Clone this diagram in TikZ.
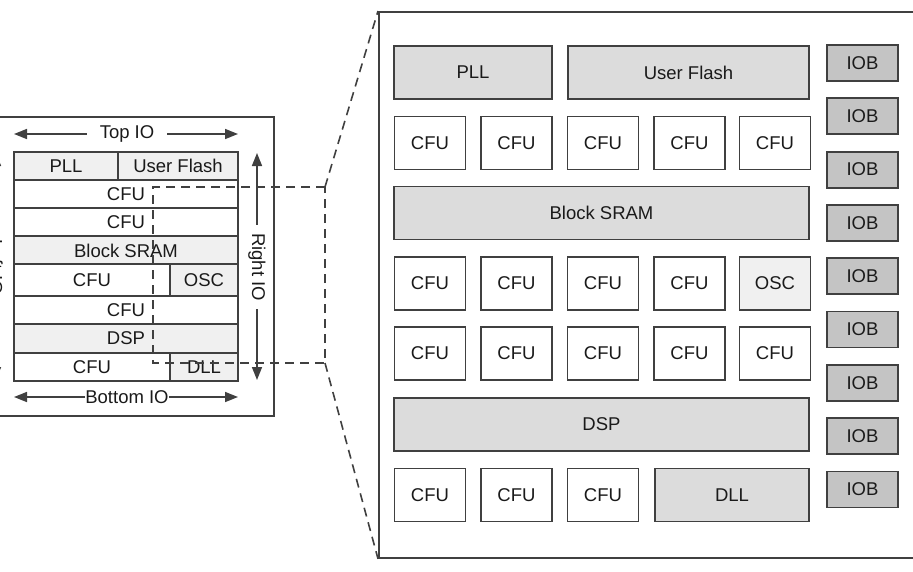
\documentclass[tikz,border=0pt]{standalone}
\usepackage{fontspec}
\setmainfont{Liberation Sans}
\usetikzlibrary{arrows.meta}
\definecolor{edge}{HTML}{404040}
\definecolor{ink}{HTML}{1A1A1A}
\definecolor{hardgray}{HTML}{DCDCDC}
\definecolor{lightgray}{HTML}{F0F0F0}
\definecolor{iobgray}{HTML}{C4C4C4}

\begin{document}
\begin{tikzpicture}[x=1pt, y=-1pt,
  txt/.style={text=ink, font=\fontsize{18.5}{20}\selectfont},
  blk/.style={txt, draw=edge, line width=1.8pt, minimum width=71pt, minimum height=53pt, inner sep=0pt},
  cfu/.style={blk, fill=white},
  hard/.style={blk, fill=hardgray},
  iob/.style={blk, fill=iobgray, minimum height=36pt},
  cell/.style={txt, draw=edge, line width=1.8pt, inner sep=0pt, minimum height=28.4pt},
  io/.style={draw=edge, line width=1.6pt, -{Triangle[length=13pt,width=10pt]}},
  zoom/.style={draw=edge, line width=1.6pt, dash pattern=on 9pt off 6pt}]
\useasboundingbox (0,0) rectangle (913,571);

\node[draw=edge, line width=1.8pt, anchor=north east, minimum width=320pt, minimum height=299pt] (dev) at (275,116) {};

\node[cell, fill=lightgray, minimum width=104pt] (pll) at (66,166) {PLL};
\node[cell, fill=lightgray, minimum width=120pt] (uf) at (178,166) {User Flash};
\node[cell, fill=white, minimum width=224pt] (c1) at (126,194) {CFU};
\node[cell, fill=white, minimum width=224pt] (c2) at (126,222.5) {CFU};
\node[cell, fill=lightgray, minimum width=224pt] (sram) at (126,250.5) {Block SRAM};
\node[cell, fill=white, minimum width=156pt, minimum height=31.7pt] (c3) at (92,280) {CFU};
\node[cell, fill=lightgray, minimum width=68pt, minimum height=31.7pt] (osc) at (204,280) {OSC};
\node[cell, fill=white, minimum width=224pt] (c4) at (126,310) {CFU};
\node[cell, fill=lightgray, minimum width=224pt] (dsp) at (126,338.5) {DSP};
\node[cell, fill=white, minimum width=156pt] (c5) at (92,367) {CFU};
\node[cell, fill=lightgray, minimum width=68pt] (dll) at (204,367) {DLL};

\node[txt, inner xsep=13pt] (topio) at (127,134) {Top IO};
\node[txt, inner xsep=0pt, fill=white] (botio) at (127,397) {Bottom IO};
\node[txt, inner xsep=8pt, rotate=-90] (rightio) at (257,267) {Right IO};
\node[txt, inner xsep=8pt, rotate=-90] (leftio) at (-4,267) {Left IO};
\coordinate (tl) at (14,134);
\coordinate (tr) at (238,134);
\coordinate (bl) at (14,397);
\coordinate (br) at (238,397);
\coordinate (rt) at (257,153);
\coordinate (rb) at (257,380);
\coordinate (lt) at (-4,153);
\coordinate (lb) at (-4,380);
\draw[io] (topio) -- (tl);
\draw[io] (topio) -- (tr);
\draw[io] (botio) -- (bl);
\draw[io] (botio) -- (br);
\draw[io] (rightio) -- (rt);
\draw[io] (rightio) -- (rb);
\draw[io] (leftio) -- (lt);
\draw[io] (leftio) -- (lb);

\node[draw=edge, line width=1.8pt, anchor=north west, minimum width=600pt, minimum height=546pt] (chip) at (378,11) {};

\node[hard, minimum width=158pt] (bpll) at (473,72.5) {PLL};
\node[hard, minimum width=241pt] (buf) at (688.5,72.5) {User Flash};
\node[cfu] (a1) at (430,143) {CFU};
\node[cfu] (a2) at (516.5,143) {CFU};
\node[cfu] (a3) at (603,143) {CFU};
\node[cfu] (a4) at (689.5,143) {CFU};
\node[cfu] (a5) at (775,143) {CFU};
\node[hard, minimum width=415pt] (bsram) at (601.5,213) {Block SRAM};
\node[cfu] (b1) at (430,283.5) {CFU};
\node[cfu] (b2) at (516.5,283.5) {CFU};
\node[cfu] (b3) at (603,283.5) {CFU};
\node[cfu] (b4) at (689.5,283.5) {CFU};
\node[blk, fill=lightgray] (bosc) at (775,283.5) {OSC};
\node[cfu] (d1) at (430,353.5) {CFU};
\node[cfu] (d2) at (516.5,353.5) {CFU};
\node[cfu] (d3) at (603,353.5) {CFU};
\node[cfu] (d4) at (689.5,353.5) {CFU};
\node[cfu] (d5) at (775,353.5) {CFU};
\node[hard, minimum width=415pt] (bdsp) at (601.5,424.5) {DSP};
\node[cfu] (e1) at (430,495) {CFU};
\node[cfu] (e2) at (516.5,495) {CFU};
\node[cfu] (e3) at (603,495) {CFU};
\node[hard, minimum width=154pt] (bdll) at (732,495) {DLL};

\node[iob] (io1) at (862.5,63) {IOB};
\node[iob] (io2) at (862.5,116.3) {IOB};
\node[iob] (io3) at (862.5,169.6) {IOB};
\node[iob] (io4) at (862.5,222.9) {IOB};
\node[iob] (io5) at (862.5,276.2) {IOB};
\node[iob] (io6) at (862.5,329.5) {IOB};
\node[iob] (io7) at (862.5,382.8) {IOB};
\node[iob] (io8) at (862.5,436.1) {IOB};
\node[iob] (io9) at (862.5,489.4) {IOB};

\coordinate (za) at (153,187);
\coordinate (zb) at (325,187);
\coordinate (zc) at (325,363);
\coordinate (zd) at (153,363);
\draw[zoom] (zb) -- (za) -- (zd) -- (zc) -- cycle;
\draw[zoom] (zb) -- (chip.north west);
\draw[zoom] (zc) -- (chip.south west);
\end{tikzpicture}
\end{document}
